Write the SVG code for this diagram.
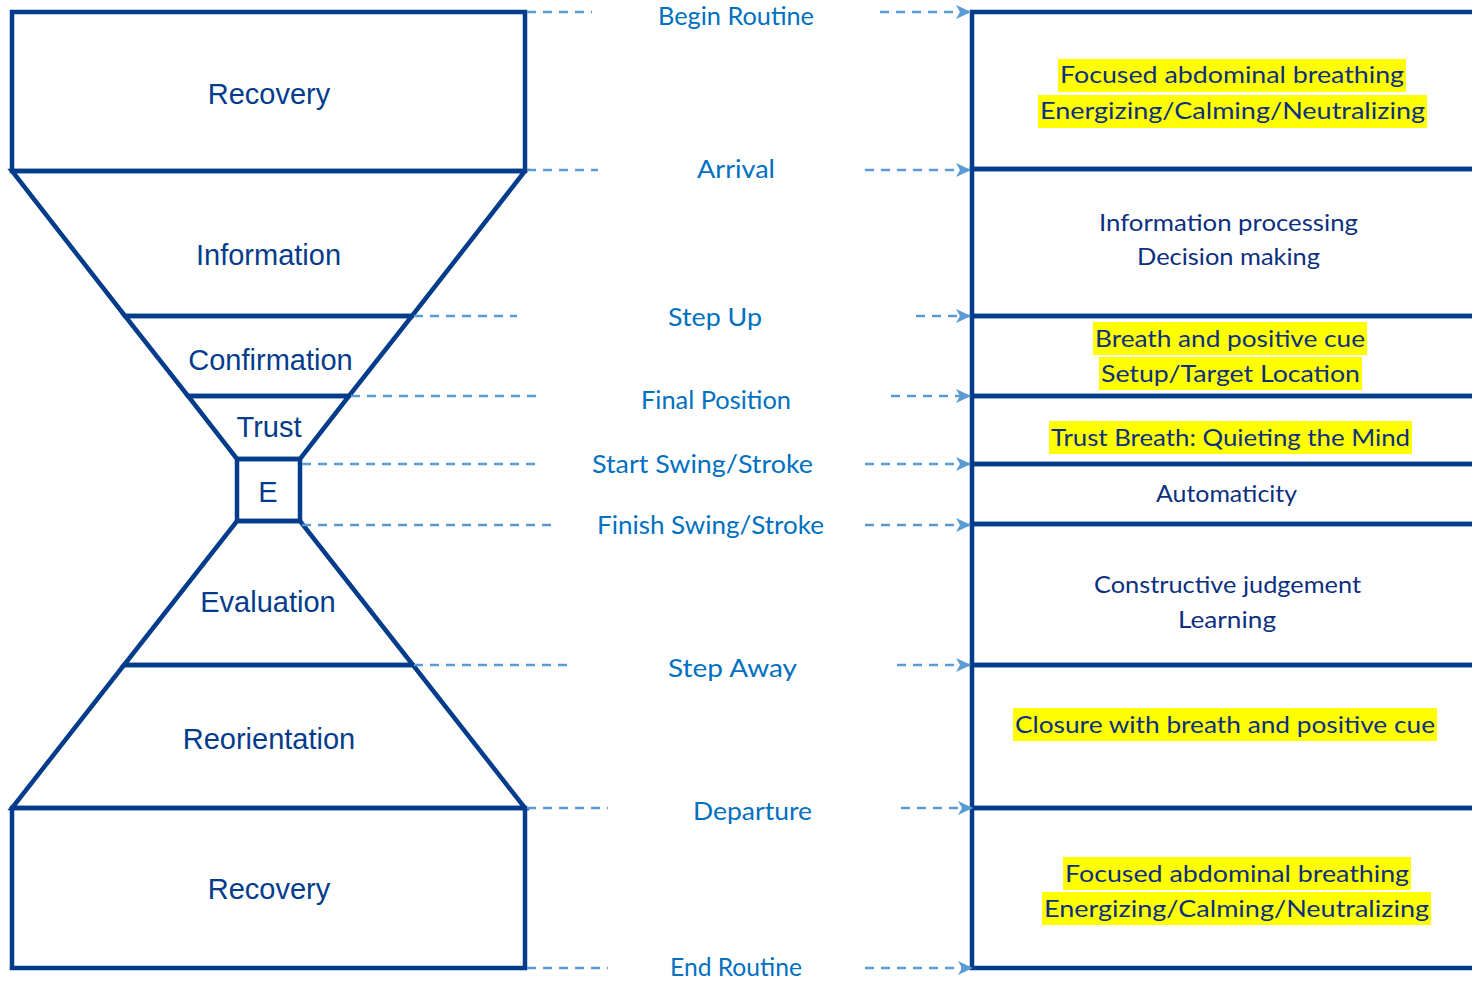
<svg xmlns="http://www.w3.org/2000/svg" width="1472" height="982" viewBox="0 0 1472 982">
<style>
.shape{fill:none;stroke:#043c8c;stroke-width:4.5;stroke-linejoin:miter}
.row{fill:none;stroke:#043c8c;stroke-width:4.5}
.lt{font-family:"Liberation Sans",Arial,sans-serif;font-size:29px;fill:#043c8c;text-anchor:middle}
.mid{font-family:Lato,"Noto Sans",sans-serif;font-size:25px;fill:#0070c0;text-anchor:middle}
.rt{font-family:Lato,"Noto Sans",sans-serif;font-size:24px;fill:#0d2f80;text-anchor:middle}
.hl{fill:#ffff00}
.dash{fill:none;stroke:#5b9bd5;stroke-width:2.5;stroke-dasharray:9 7}
</style>
<defs>
<marker id="arr" markerWidth="15" markerHeight="14" refX="14" refY="7" orient="auto" markerUnits="userSpaceOnUse">
<path d="M0,0 L15,7 L0,14 L4,7 z" fill="#5b9bd5"/>
</marker>
</defs>
<rect width="1472" height="982" fill="#ffffff"/>

<g id="recovery-top">
<rect class="shape" x="12" y="12" width="513" height="159"/>
<text class="lt" x="269" y="104">Recovery</text>
</g>
<g id="information">
<polygon class="shape" points="12,171 525,171 412,316 125,316"/>
<text class="lt" x="268.5" y="265">Information</text>
</g>
<g id="confirmation">
<polygon class="shape" points="125,316 412,316 349,396 188,396"/>
<text class="lt" x="270.5" y="370">Confirmation</text>
</g>
<g id="trust">
<polygon class="shape" points="188,396 349,396 300,459 237,459"/>
<text class="lt" x="269" y="437">Trust</text>
</g>
<g id="execution">
<rect class="shape" x="237" y="459" width="63" height="62"/>
<text class="lt" x="268" y="502">E</text>
</g>
<g id="evaluation">
<polygon class="shape" points="237,521 300,521 413,665 124,665"/>
<text class="lt" x="268" y="612">Evaluation</text>
</g>
<g id="reorientation">
<polygon class="shape" points="124,665 413,665 525,808 12,808"/>
<text class="lt" x="269" y="749">Reorientation</text>
</g>
<g id="recovery-bottom">
<rect class="shape" x="12" y="808" width="513" height="160"/>
<text class="lt" x="269" y="899">Recovery</text>
</g>

<g id="row-begin">
<rect class="row" x="972" y="12" width="540" height="157"/>
<rect class="hl" x="1058" y="59" width="348" height="33"/>
<rect class="hl" x="1038" y="95" width="389" height="33"/>
<text class="rt" x="1232" y="83" textLength="344" lengthAdjust="spacingAndGlyphs">Focused abdominal breathing</text>
<text class="rt" x="1232.5" y="119" textLength="385" lengthAdjust="spacingAndGlyphs">Energizing/Calming/Neutralizing</text>
</g>
<g id="row-arrival">
<rect class="row" x="972" y="169" width="540" height="147"/>
<text class="rt" x="1228.5" y="231" textLength="259" lengthAdjust="spacingAndGlyphs">Information processing</text>
<text class="rt" x="1228.5" y="265" textLength="183" lengthAdjust="spacingAndGlyphs">Decision making</text>
</g>
<g id="row-stepup">
<rect class="row" x="972" y="316" width="540" height="80"/>
<rect class="hl" x="1093" y="322" width="274" height="33"/>
<rect class="hl" x="1099" y="357" width="263" height="33"/>
<text class="rt" x="1230" y="347" textLength="270" lengthAdjust="spacingAndGlyphs">Breath and positive cue</text>
<text class="rt" x="1230.5" y="382" textLength="259" lengthAdjust="spacingAndGlyphs">Setup/Target Location</text>
</g>
<g id="row-final">
<rect class="row" x="972" y="396" width="540" height="68"/>
<rect class="hl" x="1049" y="421" width="363" height="33"/>
<text class="rt" x="1230.5" y="446" textLength="359" lengthAdjust="spacingAndGlyphs">Trust Breath: Quieting the Mind</text>
</g>
<g id="row-start">
<rect class="row" x="972" y="464" width="540" height="60"/>
<text class="rt" x="1226.5" y="502" textLength="141" lengthAdjust="spacingAndGlyphs">Automaticity</text>
</g>
<g id="row-finish">
<rect class="row" x="972" y="524" width="540" height="141"/>
<text class="rt" x="1227.5" y="593" textLength="267" lengthAdjust="spacingAndGlyphs">Constructive judgement</text>
<text class="rt" x="1227" y="628" textLength="98" lengthAdjust="spacingAndGlyphs">Learning</text>
</g>
<g id="row-stepaway">
<rect class="row" x="972" y="665" width="540" height="143"/>
<rect class="hl" x="1013" y="708" width="424" height="33"/>
<text class="rt" x="1225" y="733" textLength="420" lengthAdjust="spacingAndGlyphs">Closure with breath and positive cue</text>
</g>
<g id="row-departure">
<rect class="row" x="972" y="808" width="540" height="160"/>
<rect class="hl" x="1063" y="857" width="348" height="33"/>
<rect class="hl" x="1042" y="892" width="389" height="33"/>
<text class="rt" x="1237" y="882" textLength="344" lengthAdjust="spacingAndGlyphs">Focused abdominal breathing</text>
<text class="rt" x="1236.5" y="917" textLength="385" lengthAdjust="spacingAndGlyphs">Energizing/Calming/Neutralizing</text>
</g>

<g id="connectors">
<line class="dash" x1="527" y1="12" x2="592" y2="12"/>
<line class="dash" x1="880" y1="12" x2="970" y2="12" marker-end="url(#arr)"/>
<line class="dash" x1="527" y1="170" x2="598" y2="170"/>
<line class="dash" x1="865" y1="170" x2="970" y2="170" marker-end="url(#arr)"/>
<line class="dash" x1="414" y1="316" x2="517" y2="316"/>
<line class="dash" x1="916" y1="316" x2="970" y2="316" marker-end="url(#arr)"/>
<line class="dash" x1="351" y1="396" x2="541" y2="396"/>
<line class="dash" x1="891" y1="396" x2="970" y2="396" marker-end="url(#arr)"/>
<line class="dash" x1="302" y1="464" x2="536" y2="464"/>
<line class="dash" x1="865" y1="464" x2="970" y2="464" marker-end="url(#arr)"/>
<line class="dash" x1="302" y1="525" x2="555" y2="525"/>
<line class="dash" x1="865" y1="525" x2="970" y2="525" marker-end="url(#arr)"/>
<line class="dash" x1="414" y1="665" x2="572" y2="665"/>
<line class="dash" x1="897" y1="665" x2="970" y2="665" marker-end="url(#arr)"/>
<line class="dash" x1="527" y1="808" x2="608" y2="808"/>
<line class="dash" x1="901" y1="808" x2="972" y2="808" marker-end="url(#arr)"/>
<line class="dash" x1="527" y1="968" x2="608" y2="968"/>
<line class="dash" x1="865" y1="968" x2="972" y2="968" marker-end="url(#arr)"/>
<text class="mid" x="736" y="25" textLength="156" lengthAdjust="spacingAndGlyphs">Begin Routine</text>
<text class="mid" x="736" y="178" textLength="78" lengthAdjust="spacingAndGlyphs">Arrival</text>
<text class="mid" x="715" y="326" textLength="94" lengthAdjust="spacingAndGlyphs">Step Up</text>
<text class="mid" x="716" y="409" textLength="150" lengthAdjust="spacingAndGlyphs">Final Position</text>
<text class="mid" x="702.5" y="473" textLength="221" lengthAdjust="spacingAndGlyphs">Start Swing/Stroke</text>
<text class="mid" x="710.5" y="534" textLength="227" lengthAdjust="spacingAndGlyphs">Finish Swing/Stroke</text>
<text class="mid" x="732.5" y="677" textLength="129" lengthAdjust="spacingAndGlyphs">Step Away</text>
<text class="mid" x="752.5" y="820" textLength="119" lengthAdjust="spacingAndGlyphs">Departure</text>
<text class="mid" x="736" y="976" textLength="132" lengthAdjust="spacingAndGlyphs">End Routine</text>
</g>
</svg>
